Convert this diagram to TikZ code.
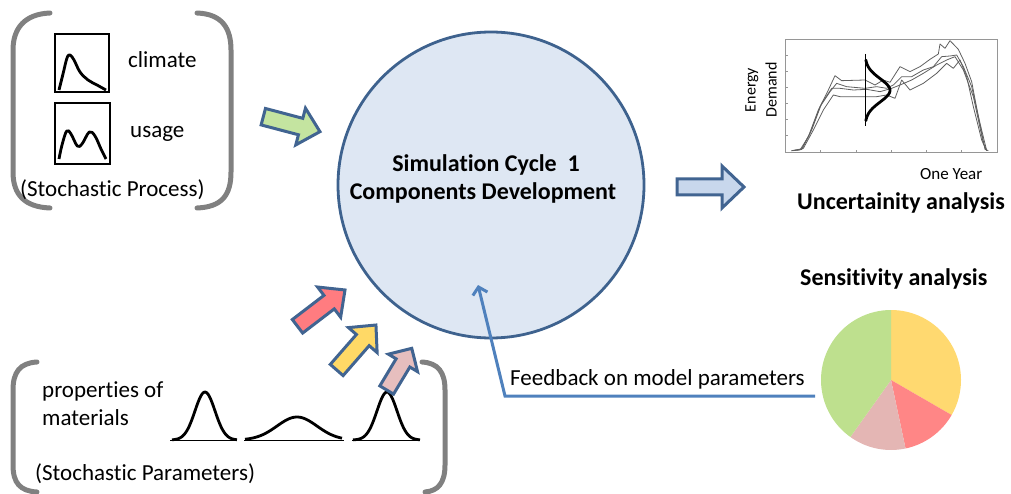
\documentclass[tikz,border=0pt]{standalone}
\usepackage{fontspec}
\setmainfont{Carlito}[Ligatures={NoCommon,NoContextual}]
\usetikzlibrary{arrows.meta}
\definecolor{bracketgray}{RGB}{128,128,128}
\definecolor{simfill}{RGB}{222,231,243}
\definecolor{simline}{RGB}{62,98,142}
\definecolor{arrowline}{RGB}{65,100,145}
\definecolor{greenfill}{RGB}{196,228,160}
\definecolor{bluefill}{RGB}{200,215,236}
\definecolor{redfill}{RGB}{255,124,128}
\definecolor{yellowfill}{RGB}{255,217,102}
\definecolor{pinkfill}{RGB}{230,190,190}
\definecolor{feedback}{RGB}{79,129,189}
\definecolor{pieyellow}{RGB}{255,217,112}
\definecolor{piered}{RGB}{255,134,134}
\definecolor{piepink}{RGB}{228,182,180}
\definecolor{piegreen}{RGB}{190,224,142}
\definecolor{chartgray}{RGB}{150,150,150}
\definecolor{seriesgray}{RGB}{95,95,95}

\begin{document}
\begin{tikzpicture}[x=1pt,y=-1pt,
  txt/.style={font=\fontsize{23}{28}\selectfont, inner sep=0pt},
  boldtxt/.style={font=\fontsize{24}{30}\selectfont\bfseries, inner sep=0pt},
  bracket/.style={draw=bracketgray, line width=5pt, line cap=round},
  blockarrowstyle/.style={draw=arrowline, line width=3pt, line join=miter},
  pics/blockarrow/.style n args={4}{code={
    \draw[pic actions] (0,-#2) -- ({#1-#4},-#2) -- ({#1-#4},-#3) -- (#1,0)
      -- ({#1-#4},#3) -- ({#1-#4},#2) -- (0,#2) -- cycle;}},
  curve/.style={black, line width=2.8pt, line join=round},
  series/.style={seriesgray, line width=0.8pt, line join=round}
]
\path[use as bounding box] (0,0) rectangle (1011,494);

% ---------- stochastic processes (top left) ----------
\draw[bracket] (50,13) .. controls (25,14) and (13,28) .. (13,50) -- (13,172)
  .. controls (13,195) and (25,207) .. (50,208);
\draw[bracket] (197,13) .. controls (222,14) and (231,28) .. (231,50) -- (231,172)
  .. controls (231,195) and (222,207) .. (197,208);

\node[draw=black, line width=1.6pt, minimum width=54pt, minimum height=58pt, inner sep=0, anchor=north west] (climatebox) at (54,33) {};
\draw[curve] plot[smooth, tension=0.6] coordinates {(59,90) (63,74) (67,58) (70,55) (74,60) (80,72) (88,80) (97,85) (106,90)};
\node[draw=black, line width=1.6pt, minimum width=55pt, minimum height=61pt, inner sep=0, anchor=north west] (usagebox) at (54,102) {};
\draw[curve] plot[smooth, tension=0.6] coordinates {(59,159) (62,145) (66.7,131) (71,134) (77.3,146) (82,144) (89.3,132) (95,136) (101,149) (106,159)};

\node[txt, anchor=base west] (climate) at (128,68) {climate};
\node[txt, anchor=base west] (usage) at (130,138) {usage};
\node[txt, anchor=base west] (stochproc) at (20,197) {(Stochastic Process)};

% ---------- stochastic parameters (bottom left) ----------
\draw[bracket] (37,362) .. controls (20,363) and (13,372) .. (13,390) -- (13,465)
  .. controls (13,483) and (20,491) .. (37,492);
\draw[bracket] (422,362) .. controls (438,363) and (445,372) .. (445,390) -- (445,465)
  .. controls (445,483) and (438,491) .. (425,492);

\node[txt, anchor=base west] (props) at (42,397) {properties of};
\node[txt, anchor=base west] (mats) at (42,425) {materials};
\node[txt, anchor=base west] (stochpar) at (35,480) {(Stochastic Parameters)};

\draw[black, line width=0.8pt] (170,440) -- (237,440);
\draw[black, line width=0.8pt] (244,440) -- (344,440);
\draw[black, line width=0.8pt] (352,440) -- (420,440);
\draw[curve] plot[domain=-33:32, samples=50] ({205+\x},{440-48*exp(-(\x*\x)/200)});
\draw[curve] plot[domain=-52:45, samples=50] ({297+\x},{440-23*exp(-(\x*\x)/800)});
\draw[curve] plot[domain=-34:33, samples=50] ({387+\x},{440-48*exp(-(\x*\x)/200)});

% ---------- simulation cycle ----------
\node[circle, draw=simline, fill=simfill, line width=2.8pt, minimum size=306pt, inner sep=0] (sim) at (491,185) {};
\node[boldtxt, anchor=base] (simA) at (486,171.7) {Simulation Cycle~~1};
\node[boldtxt, anchor=base] (simB) at (483,200) {Components Development};

% ---------- block arrows ----------
\pic[blockarrowstyle, fill=greenfill, rotate=-14.8] at (263.3,116.7) {blockarrow={58.6}{8.5}{19}{20}};
\pic[blockarrowstyle, fill=redfill, rotate=37.4] at (297.5,326.3) {blockarrow={59.8}{8.5}{19}{20}};
\pic[blockarrowstyle, fill=yellowfill, rotate=48.9] at (336.7,370) {blockarrow={59.7}{8.5}{19}{20}};
\pic[blockarrowstyle, fill=pinkfill, rotate=59] at (386.7,390) {blockarrow={48.6}{8}{17}{17}};
\pic[blockarrowstyle, fill=bluefill] at (677,187) {blockarrow={67}{8}{21}{22}};

% ---------- uncertainty chart ----------
\draw[chartgray, line width=1pt] (785,40) rectangle (997,153);
\foreach \ty in {55,71,87,103,119,135} \draw[chartgray, line width=0.8pt] (785,\ty) -- (788,\ty);
\foreach \tx in {820,856,891,926,961} \draw[chartgray, line width=0.8pt] (\tx,153) -- (\tx,150);

\begin{scope}[shift={(720,30)}, scale=1/3]
  \draw[series] plot coordinates {(215,362) (240,360) (265,320) (295,240) (325,180) (345,137) (365,152) (435,150) (465,165) (490,150) (510,157) (540,110) (570,125) (600,110) (630,88) (655,72) (660,42) (675,55) (690,32) (715,58) (735,100) (755,155) (775,260) (795,358) (805,362)};
  \draw[series] plot coordinates {(215,362) (245,358) (270,310) (300,230) (330,185) (350,160) (380,170) (435,175) (470,170) (500,175) (520,165) (545,140) (575,140) (610,120) (640,110) (665,80) (690,78) (710,75) (730,110) (755,170) (780,280) (800,362)};
  \draw[series] plot coordinates {(215,362) (245,358) (275,300) (305,220) (335,175) (360,175) (400,180) (440,178) (480,185) (515,175) (540,165) (575,150) (610,130) (650,105) (680,90) (705,80) (730,120) (760,200) (790,340) (800,362)};
  \draw[series] plot coordinates {(220,362) (250,355) (280,300) (310,240) (340,195) (360,200) (400,200) (440,200) (470,200) (500,195) (525,205) (545,150) (570,180) (610,160) (650,130) (680,100) (700,115) (720,90) (740,140) (760,230) (785,330) (800,362)};
  \draw[black, line width=0.8pt] (435,72) -- (435,288);
  \draw[black, line width=2.8pt, line cap=round] plot[domain=90:272, samples=50] ({435+75*exp(-((\x-181)*(\x-181))/2450)},\x);
\end{scope}

\node[rotate=90, align=center, font=\fontsize{16}{21}\selectfont, inner sep=0] (energy) at (761,90) {Energy\\Demand};
\node[font=\fontsize{17}{20}\selectfont, inner sep=0, anchor=base west] (oneyear) at (920,180) {One Year};
\node[boldtxt, anchor=base west] (unc) at (797,210) {Uncertainity analysis};

% ---------- sensitivity pie ----------
\node[boldtxt, anchor=base west] (sens) at (800,285) {Sensitivity analysis};
\coordinate (pie) at (891,380);
\begin{scope}[shift={(pie)}, yscale=-1]
  \fill[pieyellow] (0,0) -- (90:70) arc[start angle=90, end angle=-30, radius=70] -- cycle;
  \fill[piered] (0,0) -- (-30:70) arc[start angle=-30, end angle=-78, radius=70] -- cycle;
  \fill[piepink] (0,0) -- (-78:70) arc[start angle=-78, end angle=-125.5, radius=70] -- cycle;
  \fill[piegreen] (0,0) -- (234.5:70) arc[start angle=234.5, end angle=90, radius=70] -- cycle;
\end{scope}

% ---------- feedback ----------
\coordinate (fbstart) at (815,396);
\coordinate (fbbend) at (505,396);
\coordinate (fbtip) at (478,285);
\draw[feedback, line width=3pt, line join=miter, -{Straight Barb[length=7pt,width=15pt]}] (fbstart) -- (fbbend) -- (fbtip);
\node[txt, anchor=base west] (feedbacklbl) at (510,385) {Feedback on model parameters};

\end{tikzpicture}
\end{document}
